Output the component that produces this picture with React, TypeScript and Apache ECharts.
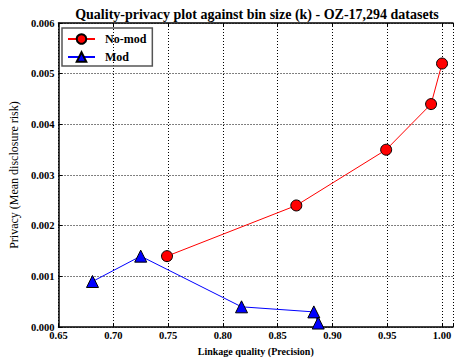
import React, { useEffect, useRef } from "react";
import * as echarts from "echarts";

const noModQuality = [0.749, 0.867, 0.949, 0.99, 1.0];
const noModPrivacy = [0.0014, 0.0024, 0.0035, 0.0044, 0.0052];
const modQuality = [0.681, 0.725, 0.817, 0.883, 0.887];
const modPrivacy = [0.0009, 0.0014, 0.0004, 0.0003, 0.00008];

const FONT = "'Liberation Serif', 'DejaVu Serif', serif";

export default function App() {
  const ref = useRef<HTMLDivElement>(null);

  useEffect(() => {
    document.body.style.margin = "0";
    const chart = echarts.init(ref.current!, null, { renderer: "svg" });
    const grid = { left: 57, top: 23, width: 401, height: 310 };
    const dotted = { lineStyle: { color: "#000", type: [1, 2] as any, width: 1 } };
    chart.setOption({
      animation: false,
      backgroundColor: "#fff",
      textStyle: { fontFamily: FONT },
      title: {
        text: "Quality-privacy plot against bin size (k) - OZ-17,294 datasets",
        left: 257,
        top: 7,
        padding: 0,
        textAlign: "center",
        textStyle: { fontFamily: FONT, fontSize: 14, fontWeight: "bold", color: "#000" },
      },
      legend: {
        left: 62,
        top: 28,
        orient: "vertical",
        itemWidth: 27,
        itemHeight: 12,
        itemGap: 6,
        padding: [5, 6, 3, 5],
        borderColor: "#555",
        borderWidth: 1.5,
        borderRadius: 0,
        textStyle: {
          fontFamily: FONT,
          fontSize: 12,
          fontWeight: "bold",
          color: "#000",
          padding: [0, 0, 0, 5],
        },
        data: ["No-mod", "Mod"],
      },
      grid,
      xAxis: [
        {
          type: "value",
          min: 0.65,
          max: 1.01,
          interval: 0.05,
          name: "Linkage quality (Precision)",
          nameLocation: "middle",
          nameGap: 17,
          nameTextStyle: { fontFamily: FONT, fontSize: 10, fontWeight: "bold", color: "#000" },
          axisLine: { lineStyle: { color: "#000", width: 1.5 } },
          axisTick: { inside: true, length: 4, lineStyle: { color: "#000" } },
          axisLabel: {
            fontFamily: FONT,
            fontSize: 10.5,
            fontWeight: "bold",
            color: "#000",
            margin: 3,
            formatter: (v: number) => (v > 1.001 ? "" : v.toFixed(2)),
          },
          splitLine: { show: true, ...dotted },
        },
        {
          type: "value",
          position: "top",
          min: 0.65,
          max: 1.01,
          interval: 0.05,
          axisLine: { lineStyle: { color: "#000", width: 1.5 } },
          axisTick: { inside: true, length: 4, lineStyle: { color: "#000" } },
          axisLabel: { show: false },
          splitLine: { show: false },
        },
      ],
      yAxis: {
        type: "value",
        min: 0,
        max: 0.006,
        interval: 0.001,
        name: "Privacy (Mean disclosure risk)",
        nameLocation: "middle",
        nameGap: 32,
        nameTextStyle: { fontFamily: FONT, fontSize: 12, color: "#000" },
        axisLine: { show: true, lineStyle: { color: "#000", width: 1.5 } },
        axisTick: { show: true, inside: true, length: 4, lineStyle: { color: "#000" } },
        axisLabel: {
          fontFamily: FONT,
          fontSize: 10.5,
          fontWeight: "bold",
          color: "#000",
          margin: 4,
          formatter: (v: number) => v.toFixed(3),
        },
        splitLine: { show: true, ...dotted },
      },
      series: [
        {
          name: "No-mod",
          type: "line",
          data: noModQuality.map((q, i) => [q, noModPrivacy[i]]),
          symbol: "circle",
          symbolSize: 11,
          color: "#ff0000",
          lineStyle: { color: "#ff0000", width: 1 },
          itemStyle: { color: "#ff0000", borderColor: "#000", borderWidth: 1 },
          z: 3,
        },
        {
          name: "Mod",
          type: "line",
          data: modQuality.map((q, i) => [q, modPrivacy[i]]),
          symbol: "triangle",
          symbolSize: 12,
          color: "#0000ff",
          lineStyle: { color: "#0000ff", width: 1 },
          itemStyle: { color: "#0000ff", borderColor: "#000", borderWidth: 1 },
          z: 3,
        },
      ],
    });
    return () => chart.dispose();
  }, []);

  return (
    <div
      ref={ref}
      style={{ position: "fixed", left: 0, top: 0, width: 456, height: 361 }}
    />
  );
}
